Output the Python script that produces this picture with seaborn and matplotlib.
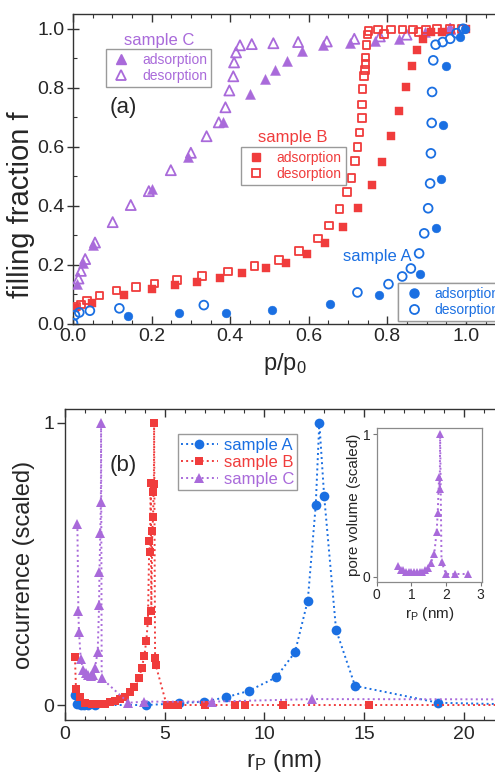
import numpy as np
import matplotlib
matplotlib.use("Agg")
import matplotlib.pyplot as plt
from matplotlib.lines import Line2D
from matplotlib.ticker import MultipleLocator, FormatStrFormatter
import seaborn as sns

sns.set_theme(style="ticks")
plt.rcParams["font.family"] = ["Liberation Sans", "DejaVu Sans"]
plt.rcParams["mathtext.default"] = "regular"

BLUE = "#1a6fe2"
RED = "#f03c3c"
PURPLE = "#a96ada"
SPINE = "#333333"

# ---------------- (a) sorption isotherms: filling fraction vs p/p0 ----------------
a_ads_x = [0.139, 0.27, 0.389, 0.507, 0.654, 0.78, 0.883, 0.924, 0.937, 0.943, 0.949, 0.985, 0.998]
a_ads_y = [0.028, 0.036, 0.038, 0.047, 0.068, 0.099, 0.171, 0.325, 0.49, 0.673, 0.873, 0.971, 1.0]
a_des_x = [0.0, 0.005, 0.016, 0.043, 0.118, 0.333, 0.724, 0.803, 0.838, 0.86, 0.881, 0.894,
           0.904, 0.909, 0.911, 0.913, 0.914, 0.917, 0.923, 0.941, 0.96, 0.976, 0.993]
a_des_y = [0.003, 0.03, 0.039, 0.045, 0.053, 0.064, 0.107, 0.135, 0.161, 0.188, 0.239, 0.307,
           0.392, 0.476, 0.578, 0.681, 0.786, 0.893, 0.946, 0.955, 0.966, 0.985, 1.0]

b_ads_x = [0.005, 0.049, 0.131, 0.202, 0.26, 0.315, 0.374, 0.431, 0.49, 0.542, 0.595, 0.641, 0.688,
           0.726, 0.76, 0.787, 0.809, 0.83, 0.847, 0.862, 0.876, 0.89, 0.911, 0.94, 1.0]
b_ads_y = [0.054, 0.07, 0.099, 0.118, 0.132, 0.143, 0.156, 0.172, 0.19, 0.208, 0.238, 0.276, 0.329,
           0.394, 0.47, 0.55, 0.636, 0.72, 0.802, 0.873, 0.927, 0.966, 0.99, 0.989, 1.0]
b_des_x = [0.009, 0.02, 0.035, 0.067, 0.111, 0.161, 0.207, 0.264, 0.328, 0.394, 0.462, 0.525, 0.576,
           0.623, 0.652, 0.678, 0.697, 0.709, 0.718, 0.724, 0.729, 0.735, 0.736, 0.737, 0.741, 0.743,
           0.745, 0.745, 0.747, 0.75, 0.752, 0.777, 0.792, 0.809, 0.839, 0.866, 0.879, 0.898, 0.926,
           0.96, 0.99]
b_des_y = [0.059, 0.066, 0.079, 0.096, 0.113, 0.126, 0.137, 0.15, 0.163, 0.178, 0.197, 0.217, 0.248,
           0.29, 0.334, 0.39, 0.447, 0.495, 0.552, 0.599, 0.648, 0.698, 0.743, 0.796, 0.841, 0.861,
           0.881, 0.903, 0.946, 0.98, 0.993, 0.997, 0.983, 0.997, 0.997, 0.997, 0.989, 0.997, 0.999,
           0.999, 0.999]

c_ads_x = [0.009, 0.025, 0.052, 0.2, 0.293, 0.381, 0.45, 0.489, 0.514, 0.544, 0.583, 0.637, 0.705,
           0.769, 0.829, 0.896, 0.96]
c_ads_y = [0.135, 0.207, 0.267, 0.458, 0.566, 0.683, 0.78, 0.83, 0.862, 0.892, 0.923, 0.946, 0.953,
           0.96, 0.965, 0.989, 1.0]
c_des_x = [0.014, 0.02, 0.031, 0.056, 0.101, 0.147, 0.193, 0.249, 0.30, 0.34, 0.371, 0.388, 0.398,
           0.408, 0.41, 0.415, 0.425, 0.455, 0.51, 0.573, 0.646, 0.716, 0.781, 0.849, 0.96]
c_des_y = [0.154, 0.18, 0.22, 0.276, 0.345, 0.403, 0.45, 0.521, 0.58, 0.636, 0.683, 0.734, 0.791,
           0.839, 0.886, 0.92, 0.944, 0.948, 0.951, 0.955, 0.957, 0.966, 0.974, 0.98, 1.0]

# ---------------- (b) pore radius distributions ----------------
dist_a_r = [0.52, 0.62, 0.78, 0.95, 1.17, 1.52, 4.08, 5.70, 6.97, 8.06, 9.22, 10.59, 11.54, 12.18,
            12.58, 12.76, 13.0, 13.6, 14.55, 18.73, 24.0]
dist_a_v = [0.035, 0.004, 0.0, 0.0, 0.0, 0.0, 0.0, 0.006, 0.012, 0.027, 0.05, 0.098, 0.187, 0.37,
            0.708, 1.0, 0.741, 0.266, 0.068, 0.008, 0.0]

dist_b_r = [0.50, 0.55, 0.75, 1.00, 1.34, 1.67, 2.00, 2.26, 2.51, 2.76, 3.01, 3.26, 3.46, 3.71, 3.85,
            3.98, 4.08, 4.16, 4.23, 4.27, 4.30, 4.33, 4.38, 4.42, 4.44, 4.46, 4.47, 4.52, 4.55, 5.10,
            5.35, 5.69, 7.02, 8.53, 9.03, 10.92, 15.27, 24.0]
dist_b_v = [0.169, 0.056, 0.030, 0.008, 0.005, 0.004, 0.005, 0.010, 0.015, 0.020, 0.030, 0.047, 0.065,
            0.094, 0.132, 0.174, 0.228, 0.298, 0.581, 0.543, 0.785, 0.333, 0.616, 0.665, 0.753, 0.783,
            1.0, 0.165, 0.142, 0.0, 0.0, 0.0, 0.0, 0.0, 0.0, 0.0, 0.0, 0.0]

dist_c_r = [0.62, 0.67, 0.70, 0.79, 0.92, 1.05, 1.17, 1.30, 1.42, 1.50, 1.64, 1.71, 1.73, 1.77, 1.80,
            1.81, 1.84, 3.18, 3.96, 7.36, 12.38, 24.0]
dist_c_v = [0.641, 0.334, 0.26, 0.162, 0.124, 0.112, 0.106, 0.104, 0.106, 0.13, 0.189, 0.354, 0.47,
            0.61, 0.72, 1.0, 0.095, 0.008, 0.012, 0.012, 0.021, 0.02]

# inset: pore volume of sample C
pv_c_r = [0.62, 0.70, 0.77, 0.85, 0.93, 1.0, 1.08, 1.16, 1.24, 1.32, 1.39, 1.48, 1.56, 1.66, 1.73,
          1.76, 1.80, 1.82, 1.83, 1.87, 2.0, 2.26, 2.64]
pv_c_v = [0.075, 0.05, 0.047, 0.035, 0.03, 0.03, 0.03, 0.03, 0.03, 0.035, 0.047, 0.06, 0.094, 0.16,
          0.316, 0.445, 0.70, 0.616, 1.0, 0.105, 0.019, 0.019, 0.019]

W, H = 495, 779
fig = plt.figure(figsize=(W / 100, H / 100), dpi=100)
fig.patch.set_facecolor("white")


def style_spines(ax, color=SPINE, lw=1.0):
    for s in ax.spines.values():
        s.set_color(color)
        s.set_linewidth(lw)


# ---------- panel (a) ----------
ax1 = fig.add_axes([73 / W, 1 - 324 / H, 424.3 / W, 310 / H])
ms_circle, ms_square, ms_tri = 40, 30, 52
open_lw = 1.3
sns.scatterplot(x=c_ads_x, y=c_ads_y, ax=ax1, marker="^", s=ms_tri, color=PURPLE, edgecolor=PURPLE, linewidth=0.3, zorder=3)
sns.scatterplot(x=c_des_x, y=c_des_y, ax=ax1, marker="^", s=ms_tri, color=PURPLE, facecolor="none", edgecolor=PURPLE, linewidth=open_lw, zorder=3)
sns.scatterplot(x=b_ads_x, y=b_ads_y, ax=ax1, marker="s", s=ms_square, color=RED, edgecolor=RED, linewidth=0.3, zorder=3)
sns.scatterplot(x=b_des_x, y=b_des_y, ax=ax1, marker="s", s=ms_square, color=RED, facecolor="none", edgecolor=RED, linewidth=open_lw, zorder=3)
sns.scatterplot(x=a_ads_x, y=a_ads_y, ax=ax1, marker="o", s=ms_circle, color=BLUE, edgecolor=BLUE, linewidth=0.3, zorder=3)
sns.scatterplot(x=a_des_x, y=a_des_y, ax=ax1, marker="o", s=ms_circle, color=BLUE, facecolor="none", edgecolor=BLUE, linewidth=open_lw, zorder=3)

ax1.set_xlim(0, 1.08)
ax1.set_ylim(0, 1.05)
ax1.xaxis.set_major_locator(MultipleLocator(0.2))
ax1.xaxis.set_minor_locator(MultipleLocator(0.05))
ax1.yaxis.set_major_locator(MultipleLocator(0.2))
ax1.yaxis.set_minor_locator(MultipleLocator(0.1))
ax1.xaxis.set_major_formatter(FormatStrFormatter("%.1f"))
ax1.yaxis.set_major_formatter(FormatStrFormatter("%.1f"))
ax1.tick_params(axis="x", which="major", direction="in", length=6, width=1, color=SPINE,
                top=True, labelsize=14, pad=3)
ax1.tick_params(axis="x", which="minor", direction="in", length=3, width=0.8, color=SPINE, top=True)
ax1.tick_params(axis="y", which="major", direction="inout", length=8, width=1, color=SPINE,
                labelsize=14, pad=2)
ax1.tick_params(axis="y", which="minor", direction="in", length=3, width=0.8, color=SPINE)
style_spines(ax1)
ax1.set_xlabel("p/p$_0$", fontsize=17, labelpad=4)
ax1.set_ylabel("filling fraction f", fontsize=21)
ax1.yaxis.set_label_coords(-0.09, 0.384)
ax1.text(0.119, 0.697, "(a)", transform=ax1.transAxes, fontsize=16, ha="center", va="center")


def series_legend(ax, color, marker, anchor, size):
    handles = [
        Line2D([], [], linestyle="none", marker=marker, markersize=size, color=color,
               markeredgecolor=color, label="adsorption"),
        Line2D([], [], linestyle="none", marker=marker, markersize=size, markerfacecolor="none",
               markeredgecolor=color, markeredgewidth=1.3, label="desorption"),
    ]
    leg = ax.legend(handles=handles, loc="upper left", bbox_to_anchor=anchor, borderaxespad=0,
                    fontsize=10, frameon=True, fancybox=False, framealpha=1, edgecolor="#9a9a9a",
                    borderpad=0.3, labelspacing=0.12, handlelength=1.6, handletextpad=0.7,
                    numpoints=1)
    leg.get_frame().set_linewidth(1.0)
    for t in leg.get_texts():
        t.set_color(color)
    ax.add_artist(leg)
    return leg


series_legend(ax1, PURPLE, "^", (0.0778, 0.887), 7)
series_legend(ax1, RED, "s", (0.395, 0.572), 6)
series_legend(ax1, BLUE, "o", (0.767, 0.133), 6.5)
ax1.text(0.2027, 0.916, "sample C", transform=ax1.transAxes, fontsize=12, color=PURPLE, ha="center", va="center")
ax1.text(0.517, 0.603, "sample B", transform=ax1.transAxes, fontsize=12, color=RED, ha="center", va="center")
ax1.text(0.717, 0.219, "sample A", transform=ax1.transAxes, fontsize=12, color=BLUE, ha="center", va="center")

# ---------- panel (b) ----------
ax2 = fig.add_axes([65 / W, 1 - 720 / H, 438.5 / W, 311 / H])
line_kw = dict(linestyle=":", linewidth=1.4, sort=False, estimator=None, markeredgewidth=0)
sns.lineplot(x=dist_a_r, y=dist_a_v, ax=ax2, color=BLUE, marker="o", markersize=7,
             markeredgecolor=BLUE, label="sample A", **line_kw)
sns.lineplot(x=dist_b_r, y=dist_b_v, ax=ax2, color=RED, marker="s", markersize=6.2,
             markeredgecolor=RED, label="sample B", **line_kw)
sns.lineplot(x=dist_c_r, y=dist_c_v, ax=ax2, color=PURPLE, marker="^", markersize=7.5,
             markeredgecolor=PURPLE, label="sample C", **line_kw)
ax2.set_xlim(0, 22)
ax2.set_ylim(-0.053, 1.048)
ax2.xaxis.set_major_locator(MultipleLocator(5))
ax2.xaxis.set_minor_locator(MultipleLocator(1))
ax2.set_yticks([0, 1])
ax2.set_yticklabels(["0", "1"])
ax2.tick_params(axis="x", which="major", direction="in", length=6, width=1, color=SPINE,
                top=True, labelsize=14, pad=4)
ax2.tick_params(axis="x", which="minor", direction="in", length=3, width=0.8, color=SPINE, top=True)
ax2.tick_params(axis="y", which="major", direction="out", length=6, width=1, color=SPINE,
                labelsize=14, pad=2)
style_spines(ax2)
ax2.set_xlabel("r$_P$ (nm)", fontsize=17, labelpad=4)
ax2.set_ylabel("occurrence (scaled)", fontsize=17, labelpad=6)
ax2.text(0.133, 0.817, "(b)", transform=ax2.transAxes, fontsize=16, ha="center", va="center")

leg2 = ax2.legend(loc="upper left", bbox_to_anchor=(0.257, 0.9187), borderaxespad=0, fontsize=12,
                  frameon=True, fancybox=False, framealpha=1, edgecolor="#9a9a9a", borderpad=0.2,
                  labelspacing=0.12, handlelength=2.2, handletextpad=0.35)
leg2.get_frame().set_linewidth(1.0)
for t, c in zip(leg2.get_texts(), [BLUE, RED, PURPLE]):
    t.set_color(c)

# inset with the pore volume of sample C
ax3 = fig.add_axes([376.7 / W, 1 - 581.7 / H, 105 / W, 153.4 / H])
sns.lineplot(x=pv_c_r, y=pv_c_v, ax=ax3, color=PURPLE, marker="^", markersize=6,
             markeredgecolor=PURPLE, **line_kw)
ax3.set_xlim(0, 3.03)
ax3.set_ylim(-0.035, 1.04)
ax3.set_xticks([0, 1, 2, 3])
ax3.set_yticks([0, 1])
ax3.set_yticklabels(["0", "1"])
ax3.tick_params(axis="both", which="major", direction="out", length=3, width=0.8, color="#777777",
                labelsize=10, pad=1.5)
style_spines(ax3, color="#8a8a8a", lw=0.9)
ax3.set_xlabel("r$_P$ (nm)", fontsize=11, labelpad=2)
ax3.set_ylabel("pore volume (scaled)", fontsize=11, labelpad=1)

fig.savefig("out.png", dpi=100, facecolor="white")
